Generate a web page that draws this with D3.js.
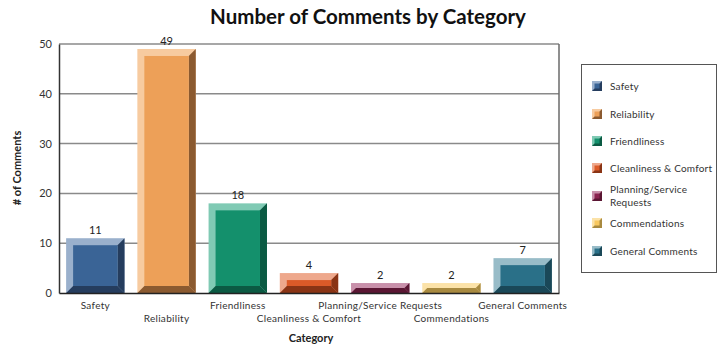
<!DOCTYPE html>
<html><head><meta charset="utf-8">
<script src="https://cdn.jsdelivr.net/npm/d3@7"></script>
<style>body{margin:0;background:#fff}svg{display:block}text{font-family:Lato,"Open Sans",sans-serif}</style>
</head><body><svg id="c" width="724" height="347"></svg>
<script>
const categories = ["Safety","Reliability","Friendliness","Cleanliness & Comfort","Planning/Service Requests","Commendations","General Comments"];
const values = [11,49,18,4,2,2,7];
const legendLabels = [["Safety"],["Reliability"],["Friendliness"],["Cleanliness & Comfort"],["Planning/Service","Requests"],["Commendations"],["General Comments"]];
const yTicks = [0,10,20,30,40,50];
const mainColors = ["#3A6496","#EDA058","#14906C","#DC5A28","#8B2450","#F8C860","#2A7088"];
const lightColors = ["#9AB0CC","#F7CBA0","#80CAB4","#EEA88C","#C890AA","#FBE2A8","#98BCC8"];
const darkColors = ["#253D5E","#8B5A30","#0B5A43","#8A3415","#5A1633","#A88A40","#1A4858"];

const svg = d3.select("#c");
const L=59,R=559,T=44,B=293;
const x = d3.scaleBand().domain(categories).range([L,R]).paddingInner(0.18).paddingOuter(0.1);
const y = d3.scaleLinear().domain([0,50]).range([B,T]);

// gridlines
svg.append("g").selectAll("line").data(yTicks.filter(d=>d>0)).join("line")
  .attr("x1",L).attr("x2",R).attr("y1",d=>y(d)).attr("y2",d=>y(d))
  .attr("stroke","#8a8a8a").attr("stroke-width",1.5);
svg.append("line").attr("x1",R).attr("x2",R).attr("y1",T).attr("y2",B).attr("stroke","#6a6a6a").attr("stroke-width",1.5);

// bars
const bev = 7;
const g = svg.append("g");
categories.forEach((c,i)=>{
  const x0=x(c), x1=x0+x.bandwidth(), y0=y(values[i]), y1=B;
  const b=Math.min(bev,(y1-y0)/2);
  const gb=g.append("g");
  gb.append("rect").attr("x",x0).attr("y",y0).attr("width",x1-x0).attr("height",y1-y0).attr("fill",lightColors[i]);
  gb.append("path").attr("d",`M${x1},${y0}L${x1},${y1}L${x1-b},${y1-b}L${x1-b},${y0+b}Z`).attr("fill",darkColors[i]);
  gb.append("path").attr("d",`M${x0},${y1}L${x1},${y1}L${x1-b},${y1-b}L${x0+b},${y1-b}Z`).attr("fill",darkColors[i]);
  gb.append("rect").attr("x",x0+b).attr("y",y0+b).attr("width",x1-x0-2*b).attr("height",Math.max(0,y1-y0-2*b)).attr("fill",mainColors[i]);
  g.append("text").attr("x",(x0+x1)/2).attr("y",y0-4).attr("text-anchor","middle")
    .attr("font-size",11).attr("fill","#222").text(values[i]);
});

// axes
const ya = svg.append("g").attr("transform",`translate(${L},0)`).call(d3.axisLeft(y).tickValues(yTicks).tickSize(0).tickPadding(7));
ya.select(".domain").attr("stroke","#333").attr("stroke-width",1.5);
ya.selectAll("text").attr("font-size",11).attr("fill","#333").attr("font-family","Lato,sans-serif");
const xa = svg.append("g").attr("transform",`translate(0,${B})`).call(d3.axisBottom(x).tickSize(0).tickPadding(0));
xa.select(".domain").attr("stroke","#222").attr("stroke-width",1.5);
xa.selectAll("text").attr("font-size",10).attr("fill","#333").attr("font-family","Lato,sans-serif")
  .attr("letter-spacing",0.3)
  .attr("dy",(d,i)=>i%2===0?"1.05em":"2.35em").attr("y",5);

// titles
svg.append("text").attr("x",368).attr("y",24).attr("text-anchor","middle").attr("font-size",20.5).attr("font-weight","bold").attr("fill","#111").text("Number of Comments by Category");
svg.append("text").attr("transform","translate(21,168) rotate(-90)").attr("text-anchor","middle").attr("font-size",11).attr("font-weight","bold").attr("fill","#222").text("# of Comments");
svg.append("text").attr("x",311).attr("y",342).attr("text-anchor","middle").attr("font-size",11).attr("font-weight","bold").attr("fill","#222").text("Category");

// legend
svg.append("rect").attr("x",581.5).attr("y",64.5).attr("width",135).attr("height",208).attr("fill","none").attr("stroke","#555").attr("stroke-width",1);
const ly=[86,114,141,168,196,223,251];
legendLabels.forEach((lab,i)=>{
  const cy=ly[i], sx=592, s=10, sy=cy-5;
  const lg=svg.append("g");
  lg.append("rect").attr("x",sx).attr("y",sy).attr("width",s).attr("height",s).attr("fill",darkColors[i]);
  lg.append("path").attr("d",`M${sx},${sy}L${sx+s},${sy}L${sx},${sy+s}Z`).attr("fill",lightColors[i]);
  lg.append("rect").attr("x",sx+2.5).attr("y",sy+2.5).attr("width",5).attr("height",5).attr("fill",mainColors[i]);
  const t=lg.append("text").attr("x",610).attr("font-size",10).attr("fill","#333").attr("letter-spacing",0.2);
  if(lab.length===1){ t.attr("y",cy+3.5).text(lab[0]); }
  else { lab.forEach((l,k)=>t.append("tspan").attr("x",610).attr("y",cy-3+k*13).text(l)); }
});
</script></body></html>
